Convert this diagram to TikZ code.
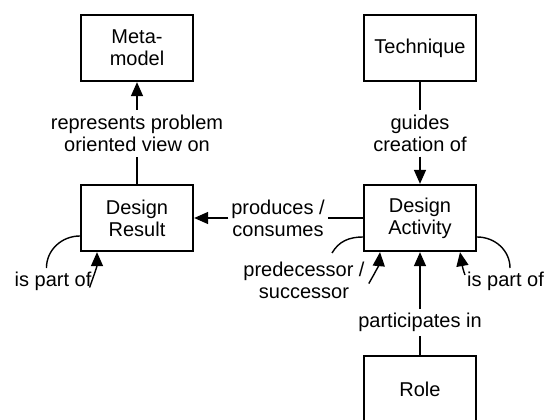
\documentclass[tikz,border=0pt]{standalone}
\usepackage{fontspec}
\setmainfont{Liberation Sans}
\usetikzlibrary{arrows.meta}
\begin{document}
\begin{tikzpicture}[x=1pt,y=1pt,
  every node/.style={font=\fontsize{20pt}{22pt}\selectfont},
  entity/.style={draw, line width=2.3pt, minimum width=112pt, minimum height=66pt,
                 inner sep=0pt, align=center},
  rel/.style={inner sep=0pt, align=center},
  conn/.style={line width=1.4pt},
  tip/.style={conn, -{Triangle[length=14pt,width=12pt]}}]
\path[use as bounding box, clip] (0,0) rectangle (544,-420);

% concepts
\node[entity] (mm) at (137,-48)  {Meta-\\model};
\node[entity] (te) at (420,-48)  {Technique};
\node[entity] (dr) at (137,-218) {Design\\Result};
\node[entity] (da) at (420,-218) {Design\\Activity};
\node[entity] (ro) at (420,-389) {Role};

% relationship labels
\node[rel, outer sep=5pt, anchor=north] (rp) at (137,-110) {represents problem\\oriented view on};
\node[rel, outer sep=5pt, anchor=north] (gc) at (420,-110) {guides\\creation of};
\node[rel, outer sep=3pt] (pc) at (278,-218) {produces /\\consumes};
\node[rel, outer sep=4pt, anchor=north] (pi) at (420,-309) {participates in};
\node[rel, anchor=north] (pre) at (304,-262) {predecessor /\\successor};
\node[rel, anchor=north] (lp1) at (53,-272) {is part of};
\node[rel, anchor=north west] (lp2) at (467,-272) {is part of};

% straight relationships
\draw[conn] (dr.north) -- (rp.south);
\draw[tip]  (rp.north) -- (mm.south);
\draw[conn] (te.south) -- (gc.north);
\draw[tip]  (gc.south) -- (da.north);
\draw[conn] (da.west) -- (pc.east);
\draw[tip]  (pc.west) -- (dr.east);
\draw[conn] (ro.north) -- (pi.south);
\draw[tip]  (pi.north) -- (da.south);

% self relationships
\draw[conn] ([yshift=-18pt]dr.west) to[out=180,in=90] ([xshift=32pt,yshift=4pt]lp1.north west);
\draw[tip]  ([xshift=-2pt,yshift=-6pt]lp1.east) to[out=70,in=-90] ([xshift=-40pt]dr.south);

\draw[conn] ([yshift=-19pt]da.west) to[out=180,in=60] ([xshift=28pt,yshift=9pt]pre.north);
\draw[tip]  ([xshift=4pt,yshift=-3pt]pre.east) to[out=60,in=-95] ([xshift=-40pt]da.south);

\draw[conn] ([yshift=-19pt]da.east) to[out=0,in=90] ([xshift=43pt,yshift=4pt]lp2.north west);
\draw[tip]  ([xshift=-2pt,yshift=-3pt]lp2.north west) to[out=110,in=-80] ([xshift=40pt]da.south);
\end{tikzpicture}
\end{document}
